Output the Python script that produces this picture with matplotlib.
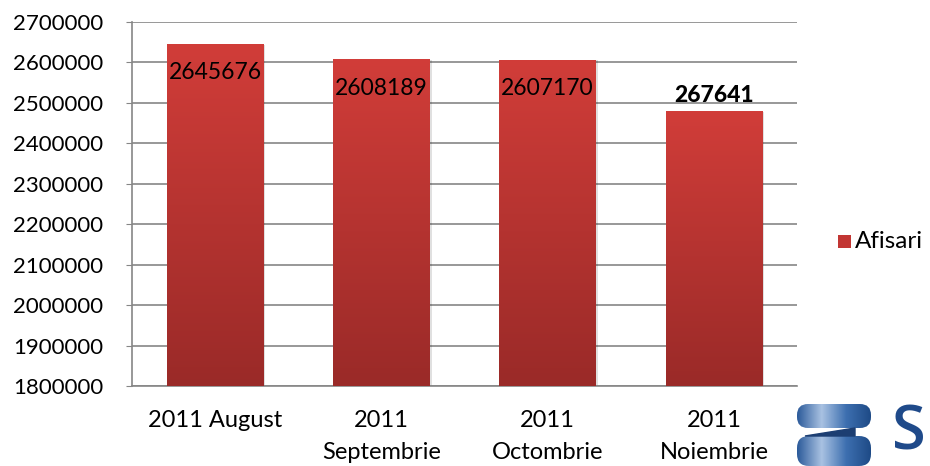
import numpy as np
import matplotlib
matplotlib.use("Agg")
import matplotlib.pyplot as plt
from matplotlib.colors import LinearSegmentedColormap
from matplotlib.patches import Rectangle, FancyBboxPatch

categories = ["2011 August", "2011\nSeptembrie", "2011\nOctombrie", "2011\nNoiembrie"]
values = [2645676, 2608189, 2607170, 2479000]
labels = ["2645676", "2608189", "2607170", "267641"]
label_bold = [False, False, False, True]
series_name = "Afisari"
y_ticks = list(range(1800000, 2700001, 100000))

plt.rcParams['font.family'] = ['Lato', 'DejaVu Sans']

fig = plt.figure(figsize=(9.30, 4.66), dpi=100)
ax = fig.add_axes([132/930, 80/466, 665/930, 364/466])

cmap = LinearSegmentedColormap.from_list("redgrad", ["#9A2A28", "#D13D39"])
grad = np.linspace(0, 1, 256).reshape(-1, 1)

x = np.arange(len(categories))
bw = 0.58
ymin, ymax = 1800000, 2700000
bars = ax.bar(x, [v - ymin for v in values], bottom=ymin, width=bw,
              color="none", edgecolor="none", zorder=3)
for b in bars:
    x0, y0 = b.get_x(), b.get_y()
    w, h = b.get_width(), b.get_height()
    sh = Rectangle((x0 + 0.012, y0), w, h - 2000, facecolor="#000000", alpha=0.12,
                   edgecolor="none", zorder=2)
    ax.add_patch(sh)
    im = ax.imshow(grad, cmap=cmap, aspect="auto", origin="lower",
                   extent=[x0, x0 + w, y0, y0 + h], zorder=3)
    im.set_clip_path(b)

for i, (v, lab, bold) in enumerate(zip(values, labels, label_bold)):
    if bold:
        ax.annotate(lab, (x[i], v), xytext=(0, 16), textcoords="offset pixels",
                    ha="center", va="center", fontsize=16.5, fontweight="black",
                    color="black", zorder=5)
    else:
        ax.annotate(lab, (x[i], v), xytext=(0, -29), textcoords="offset pixels",
                    ha="center", va="center", fontsize=16.5, color="black", zorder=5)

ax.set_xlim(-0.5, len(categories) - 0.5)
ax.set_ylim(ymin, ymax)
ax.set_yticks(y_ticks)
ax.set_yticklabels([str(t) for t in y_ticks], fontsize=16)
ax.set_xticks(x)
ax.set_xticklabels(categories, fontsize=17, linespacing=1.65, va="top")
ax.tick_params(axis="x", length=0, pad=17)
ax.tick_params(axis="y", length=4, color="#868686", pad=16.5)
ax.grid(axis="y", color="#868686", linewidth=1.2, zorder=0)
ax.set_axisbelow(True)
for s in ["top", "right"]:
    ax.spines[s].set_visible(False)
for s in ["left", "bottom"]:
    ax.spines[s].set_color("#868686")
    ax.spines[s].set_linewidth(1.2)

# legend
fig.patches.append(Rectangle((838/930, (466-248)/466), 13/930, 13/466,
                             transform=fig.transFigure, facecolor="#C23633",
                             edgecolor="none"))
fig.text(855/930, (466-241)/466, series_name, fontsize=17.5, va="center", ha="left")

# logo approximation
logo_ax = fig.add_axes([795/930, 0, 135/930, 68/466])
logo_ax.set_xlim(0, 135)
logo_ax.set_ylim(0, 68)
logo_ax.axis("off")
bcmap = LinearSegmentedColormap.from_list("bl", ["#2B5A9A", "#A9C2E2", "#3D6FB0", "#1E4A86"])
bgrad = np.linspace(0, 1, 256).reshape(1, -1)
top_shape = FancyBboxPatch((2, 38), 74, 24, boxstyle="round,pad=0,rounding_size=11",
                           transform=logo_ax.transData)
bot_shape = FancyBboxPatch((2, 0), 74, 30, boxstyle="round,pad=0,rounding_size=12",
                           transform=logo_ax.transData)
for shp in (top_shape, bot_shape):
    im = logo_ax.imshow(bgrad, cmap=bcmap, aspect="auto",
                        extent=[2, 76, 0, 64], zorder=2)
    im.set_clip_path(shp)
logo_ax.fill([10, 60, 60, 30], [30, 38, 30, 30], color="#1C3E72", zorder=3)
logo_ax.text(97, 32, "S", fontsize=44, color="#1F4A8A", ha="left", va="center",
             fontweight="semibold", fontfamily="Open Sans")

fig.savefig("out.png", dpi=100)
